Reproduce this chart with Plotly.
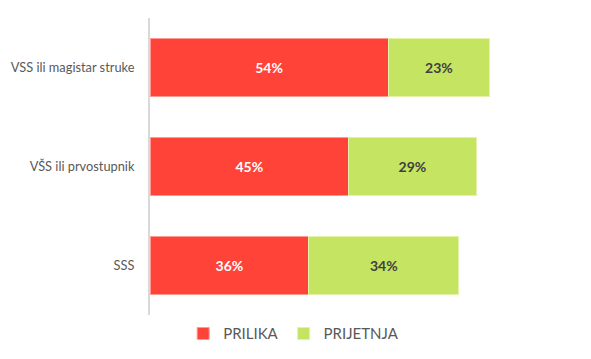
import plotly.graph_objects as go

categories = ["SSS", "VŠS ili prvostupnik", "VSS ili magistar struke"]
prilika = [36, 45, 54]
prijetnja = [34, 29, 23]
series_names = ["PRILIKA", "PRIJETNJA"]

red = "#FF4339"
green = "#C4E462"
font_family = "Lato, Open Sans, sans-serif"

fig = go.Figure()
fig.add_trace(go.Bar(
    y=categories, x=prilika, orientation="h", name=series_names[0],
    marker=dict(color=red, line=dict(color="#FF9A92", width=1)),
    text=[f"{v}%" for v in prilika], textposition="inside", insidetextanchor="middle",
    textfont=dict(color="white", size=14, family=font_family, weight="bold"),
    hoverinfo="skip",
))
fig.add_trace(go.Bar(
    y=categories, x=prijetnja, orientation="h", name=series_names[1],
    marker=dict(color=green, line=dict(color="#E2F3A8", width=1)),
    text=[f"{v}%" for v in prijetnja], textposition="inside", insidetextanchor="middle",
    textfont=dict(color="#404040", size=14, family=font_family, weight="bold"),
    hoverinfo="skip",
))

fig.update_layout(
    width=583, height=351,
    barmode="stack", bargap=0.414,
    margin=dict(l=142, r=44, t=10, b=44, autoexpand=False),
    paper_bgcolor="white", plot_bgcolor="white",
    font=dict(family=font_family, color="#595959", size=13),
    showlegend=True,
    legend=dict(orientation="h", xref="container", x=0.49, xanchor="center",
                yref="container", y=0.025, yanchor="bottom",
                font=dict(size=15, color="#595959"), itemwidth=30,
                traceorder="normal"),
    uniformtext=dict(mode="show", minsize=8),
)
fig.update_xaxes(range=[0, 90], showgrid=False, showticklabels=False, zeroline=False,
                 showline=False, fixedrange=True)
fig.update_yaxes(showline=True, linecolor="#D9D9D9", linewidth=2, showgrid=False,
                 ticks="", ticklabelstandoff=11, range=[-0.5, 2.5], automargin=False,
                 tickfont=dict(size=12.8, color="#595959"))

fig.write_html("out.html")
